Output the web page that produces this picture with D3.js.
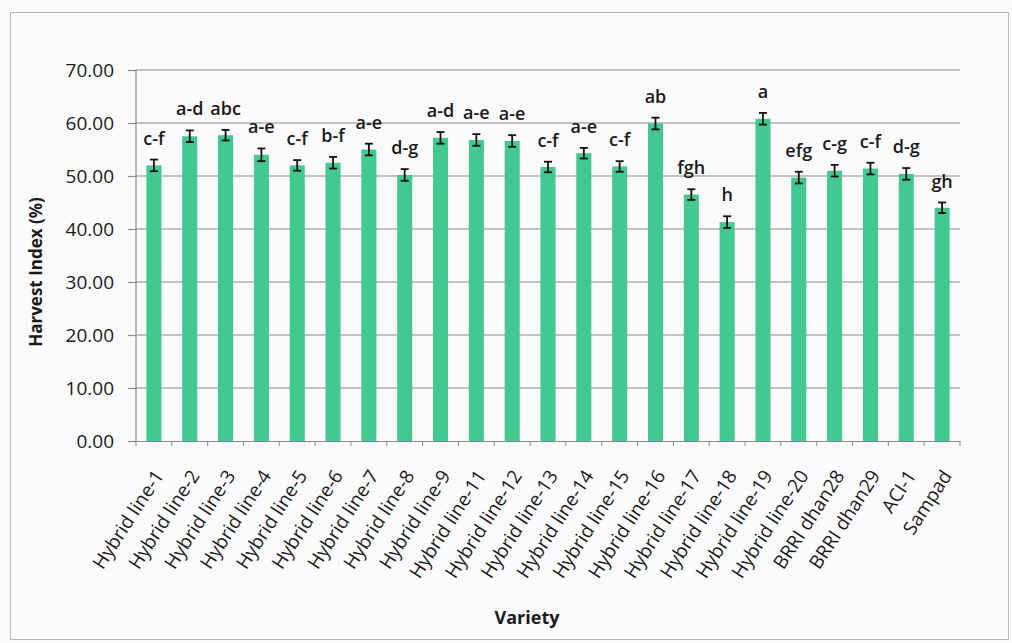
<!DOCTYPE html>
<html>
<head>
  <meta charset="utf-8">
  <title>Harvest Index by Variety</title>
  <script src="https://d3js.org/d3.v7.min.js"></script>
  <style>
    body { margin: 0; background: #fbfbfd; }
    text { font-family: "Open Sans", "Noto Sans", sans-serif; fill: #1a1a1a; }
  </style>
</head>
<body>
<script>
  // data
  var varieties = ["Hybrid line-1", "Hybrid line-2", "Hybrid line-3", "Hybrid line-4", "Hybrid line-5",
    "Hybrid line-6", "Hybrid line-7", "Hybrid line-8", "Hybrid line-9", "Hybrid line-11", "Hybrid line-12",
    "Hybrid line-13", "Hybrid line-14", "Hybrid line-15", "Hybrid line-16", "Hybrid line-17",
    "Hybrid line-18", "Hybrid line-19", "Hybrid line-20", "BRRI dhan28", "BRRI dhan29", "ACI-1", "Sampad"];
  var harvestIndex = [52.0, 57.5, 57.7, 54.0, 52.0, 52.5, 55.0, 50.2, 57.2, 56.8, 56.6,
    51.7, 54.3, 51.8, 59.9, 46.5, 41.3, 60.8, 49.7, 51.0, 51.4, 50.4, 44.0];
  var stdErr = [1.1, 1.1, 1.0, 1.2, 1.0, 1.1, 1.1, 1.1, 1.1, 1.1, 1.1,
    1.0, 1.0, 1.0, 1.1, 1.0, 1.1, 1.1, 1.1, 1.1, 1.1, 1.1, 1.0];
  var letters = ["c-f", "a-d", "abc", "a-e", "c-f", "b-f", "a-e", "d-g", "a-d", "a-e", "a-e",
    "c-f", "a-e", "c-f", "ab", "fgh", "h", "a", "efg", "c-g", "c-f", "d-g", "gh"];
  var yTicks = [0, 10, 20, 30, 40, 50, 60, 70];

  var width = 1012, height = 643;
  var margin = { top: 70, right: 52, bottom: 202, left: 136 };

  var svg = d3.select("body").append("svg").attr("width", width).attr("height", height);

  // chart frame
  svg.append("rect")
    .attr("x", 10.5).attr("y", 12.5).attr("width", 998).attr("height", 627)
    .attr("fill", "#fbfbfd").attr("stroke", "#b5b5b5");

  var x = d3.scaleBand()
    .domain(varieties)
    .range([margin.left, width - margin.right])
    .paddingInner(0.58).paddingOuter(0.29);

  var y = d3.scaleLinear()
    .domain([0, 70])
    .range([height - margin.bottom, margin.top]);

  // gridlines
  svg.append("g")
    .selectAll("line")
    .data(yTicks.slice(1))
    .enter().append("line")
    .attr("x1", margin.left).attr("x2", width - margin.right)
    .attr("y1", function (d) { return y(d); }).attr("y2", function (d) { return y(d); })
    .attr("stroke", "#8a8a8a").attr("stroke-width", 1.2);

  // bars
  svg.append("g")
    .selectAll("rect")
    .data(varieties)
    .enter().append("rect")
    .attr("x", function (d) { return x(d); })
    .attr("y", function (d, i) { return y(harvestIndex[i]); })
    .attr("width", x.bandwidth())
    .attr("height", function (d, i) { return y(0) - y(harvestIndex[i]); })
    .attr("fill", "#43c98f");

  // error bars
  var err = svg.append("g").attr("stroke", "#111").attr("stroke-width", 1.8);
  varieties.forEach(function (d, i) {
    var cx = x(d) + x.bandwidth() / 2;
    var lo = y(harvestIndex[i] - stdErr[i]), hi = y(harvestIndex[i] + stdErr[i]);
    err.append("line").attr("x1", cx).attr("x2", cx).attr("y1", lo).attr("y2", hi);
    err.append("line").attr("x1", cx - 4).attr("x2", cx + 4).attr("y1", lo).attr("y2", lo);
    err.append("line").attr("x1", cx - 4).attr("x2", cx + 4).attr("y1", hi).attr("y2", hi);
  });

  // significance letters
  svg.append("g")
    .selectAll("text")
    .data(varieties)
    .enter().append("text")
    .attr("x", function (d) { return x(d) + x.bandwidth() / 2; })
    .attr("y", function (d, i) { return y(harvestIndex[i] + stdErr[i]) - 15; })
    .attr("text-anchor", "middle")
    .style("font-size", "18px")
    .style("font-weight", "600")
    .text(function (d, i) { return letters[i]; });

  // y axis
  var yAxis = svg.append("g")
    .attr("transform", "translate(" + margin.left + ",0)")
    .call(d3.axisLeft(y).tickValues(yTicks).tickFormat(d3.format(".2f")).tickSize(8).tickPadding(14));
  yAxis.selectAll("path, line").attr("stroke", "#8a8a8a").attr("stroke-width", 1.2);
  yAxis.select(".domain").attr("d", "M0," + y(70) + "V" + y(0));
  yAxis.selectAll("text").style("font-size", "19px").style("font-family", "'Open Sans', sans-serif").attr("fill", "#1a1a1a");

  // x axis with ticks at band boundaries
  var xAxis = svg.append("g")
    .attr("transform", "translate(0," + y(0) + ")")
    .call(d3.axisBottom(x).tickSize(0).tickPadding(0));
  xAxis.select(".domain").attr("stroke", "#8a8a8a").attr("stroke-width", 1.2);
  var step = x.step();
  xAxis.selectAll(".tick").append("line")
    .attr("x1", step / 2).attr("x2", step / 2).attr("y1", 0).attr("y2", 5)
    .attr("stroke", "#8a8a8a");
  xAxis.append("line")
    .attr("x1", margin.left).attr("x2", margin.left).attr("y1", 0).attr("y2", 5)
    .attr("stroke", "#8a8a8a");
  xAxis.selectAll(".tick text")
    .attr("text-anchor", "end")
    .attr("dy", "0.35em")
    .attr("transform", "translate(5,31) rotate(-57)")
    .style("font-size", "19px")
    .style("font-family", "'Open Sans', sans-serif")
    .attr("fill", "#1a1a1a");

  // axis titles
  svg.append("text")
    .attr("transform", "translate(42,272) rotate(-90)")
    .attr("text-anchor", "middle")
    .style("font-size", "17px").style("font-weight", "bold")
    .text("Harvest Index (%)");

  svg.append("text")
    .attr("x", 527).attr("y", 624)
    .attr("text-anchor", "middle")
    .style("font-size", "18px").style("font-weight", "bold")
    .text("Variety");
</script>
</body>
</html>
